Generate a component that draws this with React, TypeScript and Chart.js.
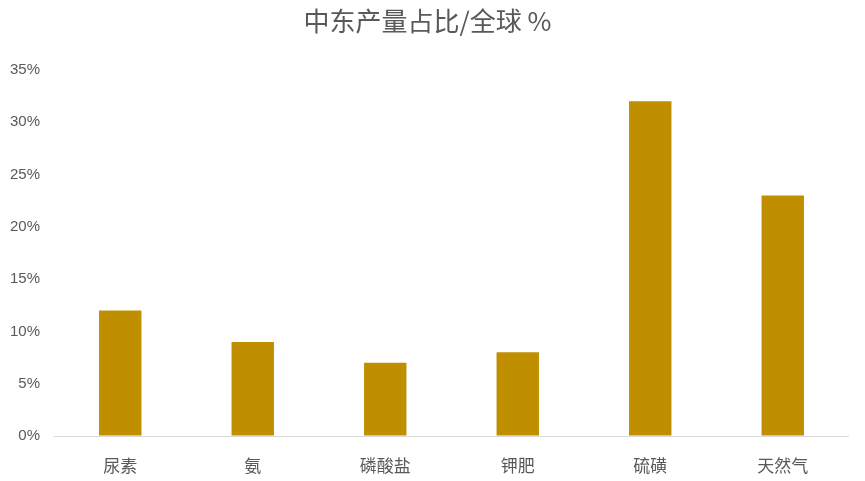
import { useEffect, useRef } from "react"
import { Chart, registerables } from "chart.js"

Chart.register(...registerables)

const categories = ["尿素", "氨", "磷酸盐", "钾肥", "硫磺", "天然气"]
const shares = [12, 9, 7, 8, 32, 23]
const yTicks = [0, 5, 10, 15, 20, 25, 30, 35]

export default function App() {
  const chartRef = useRef<HTMLCanvasElement>(null)
  const chartInstance = useRef<Chart | null>(null)

  useEffect(() => {
    if (!chartRef.current) return
    if (chartInstance.current) chartInstance.current.destroy()
    const ctx = chartRef.current.getContext("2d")
    if (!ctx) return

    chartInstance.current = new Chart(ctx, {
      type: "bar",
      data: {
        labels: categories,
        datasets: [
          {
            label: "中东产量占比",
            data: shares,
            backgroundColor: "#BF8F00",
            borderWidth: 0,
            barPercentage: 0.64,
            categoryPercentage: 0.5,
          },
        ],
      },
      options: {
        animation: false,
        responsive: true,
        maintainAspectRatio: false,
        layout: { padding: { left: 6, right: 16, bottom: 0, top: 0 } },
        scales: {
          y: {
            min: 0,
            max: 35,
            afterBuildTicks: (scale: any) => {
              scale.ticks = yTicks.map((v) => ({ value: v }))
            },
            afterFit: (scale: any) => {
              scale.width = 48
            },
            border: { display: false },
            grid: {
              drawTicks: false,
              color: (c: any) => (c.tick && c.tick.value === 0 ? "#D9D9D9" : "transparent"),
            },
            ticks: {
              padding: 14,
              color: "#595959",
              font: { family: "'Liberation Sans Narrow', 'Liberation Sans', sans-serif", size: 15 },
              callback: (v: any) => `${v}%`,
            },
          },
          x: {
            afterFit: (scale: any) => {
              scale.height = 45
            },
            border: { display: false },
            grid: { display: false },
            ticks: {
              padding: 11,
              color: "#595959",
              font: { family: "'Noto Sans CJK SC', sans-serif", size: 17 },
            },
          },
        },
        plugins: {
          legend: { display: false },
          tooltip: { enabled: false },
          title: {
            display: true,
            text: "中东产量占比/全球 %",
            color: "#595959",
            font: { family: "'Noto Sans CJK SC', sans-serif", size: 26, weight: "normal" },
            padding: { top: 6, bottom: 32.8 },
          },
        },
      },
    })

    return () => {
      if (chartInstance.current) chartInstance.current.destroy()
    }
  }, [])

  return (
    <div style={{ position: "absolute", left: 0, top: 0, width: 865, height: 481, background: "#fff" }}>
      <canvas ref={chartRef} />
    </div>
  )
}
